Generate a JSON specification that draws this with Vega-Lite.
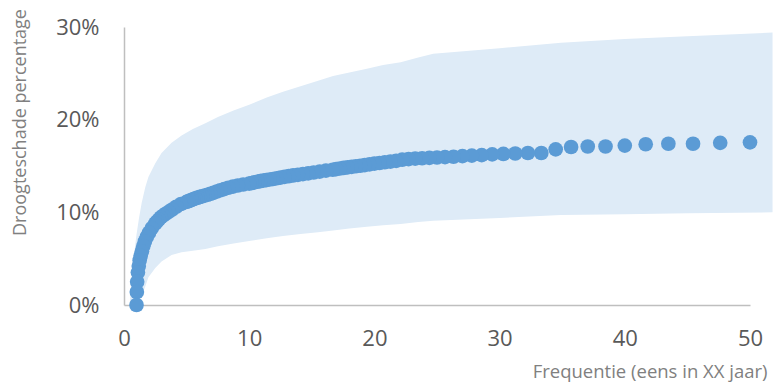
{
  "$schema": "https://vega.github.io/schema/vega-lite/v6.json",
  "autosize": {"type": "none"},
  "padding": {"left": 124, "top": 27, "right": 24, "bottom": 78},
  "width": 626,
  "height": 278,
  "background": "white",
  "config": {"view": {"stroke": null}, "font": "Open Sans"},
  "datasets": {
    "band": [
      {"x": 0.45, "hi": 0, "lo": 0},
      {"x": 0.6, "hi": 2.5, "lo": 0},
      {"x": 0.75, "hi": 4.6, "lo": 0},
      {"x": 0.88, "hi": 6.3, "lo": 0.1},
      {"x": 1.0, "hi": 7.6, "lo": 0.2},
      {"x": 1.2, "hi": 9.4, "lo": 0.6},
      {"x": 1.41, "hi": 11.0, "lo": 1.0},
      {"x": 1.7, "hi": 12.7, "lo": 2.0},
      {"x": 1.95, "hi": 13.8, "lo": 3.0},
      {"x": 2.5, "hi": 15.3, "lo": 4.0},
      {"x": 3.0, "hi": 16.4, "lo": 4.7},
      {"x": 3.8, "hi": 17.5, "lo": 5.4},
      {"x": 4.6, "hi": 18.3, "lo": 5.7},
      {"x": 5.5, "hi": 19.0, "lo": 5.85},
      {"x": 6.5, "hi": 19.6, "lo": 6.05},
      {"x": 7.5, "hi": 20.3, "lo": 6.35},
      {"x": 8.75, "hi": 21.0, "lo": 6.65},
      {"x": 10, "hi": 21.6, "lo": 6.9},
      {"x": 11.4, "hi": 22.4, "lo": 7.2},
      {"x": 12.7, "hi": 23.0, "lo": 7.45},
      {"x": 14.1, "hi": 23.6, "lo": 7.65},
      {"x": 15.5, "hi": 24.2, "lo": 7.85},
      {"x": 16.7, "hi": 24.7, "lo": 8.05},
      {"x": 18, "hi": 25.1, "lo": 8.25},
      {"x": 19.4, "hi": 25.5, "lo": 8.45},
      {"x": 20.7, "hi": 25.9, "lo": 8.6},
      {"x": 22.1, "hi": 26.2, "lo": 8.75},
      {"x": 23.5, "hi": 26.7, "lo": 8.95},
      {"x": 24.7, "hi": 27.1, "lo": 9.1},
      {"x": 30, "hi": 27.7, "lo": 9.4},
      {"x": 34.9, "hi": 28.3, "lo": 9.7},
      {"x": 40, "hi": 28.7, "lo": 9.8},
      {"x": 45, "hi": 29.0, "lo": 9.9},
      {"x": 51.8, "hi": 29.4, "lo": 10.0}
    ],
    "points": [
      {"x": 50.0, "y": 17.55}, {"x": 47.62, "y": 17.5}, {"x": 45.45, "y": 17.4}, {"x": 43.48, "y": 17.4},
      {"x": 41.67, "y": 17.35}, {"x": 40.0, "y": 17.2}, {"x": 38.46, "y": 17.1}, {"x": 37.04, "y": 17.1},
      {"x": 35.71, "y": 17.05}, {"x": 34.48, "y": 16.8}, {"x": 33.33, "y": 16.4}, {"x": 32.26, "y": 16.4},
      {"x": 31.25, "y": 16.35}, {"x": 30.30, "y": 16.3}, {"x": 29.41, "y": 16.25}, {"x": 28.57, "y": 16.18},
      {"x": 27.78, "y": 16.12}, {"x": 27.03, "y": 16.06}, {"x": 26.32, "y": 16.0}, {"x": 25.64, "y": 15.96},
      {"x": 25.0, "y": 15.92}, {"x": 24.39, "y": 15.88}, {"x": 23.81, "y": 15.84}, {"x": 23.26, "y": 15.8},
      {"x": 22.73, "y": 15.74}, {"x": 22.22, "y": 15.68}, {"x": 21.74, "y": 15.55}, {"x": 21.28, "y": 15.47},
      {"x": 20.83, "y": 15.4}, {"x": 20.41, "y": 15.32}, {"x": 20.0, "y": 15.25}, {"x": 19.61, "y": 15.17},
      {"x": 19.23, "y": 15.1}, {"x": 18.87, "y": 15.03}, {"x": 18.52, "y": 14.97}, {"x": 18.18, "y": 14.91},
      {"x": 17.86, "y": 14.85}, {"x": 17.54, "y": 14.79}, {"x": 17.24, "y": 14.73}, {"x": 16.95, "y": 14.67},
      {"x": 16.67, "y": 14.6}, {"x": 16.13, "y": 14.5}, {"x": 15.63, "y": 14.4}, {"x": 15.15, "y": 14.3},
      {"x": 14.71, "y": 14.2}, {"x": 14.29, "y": 14.12}, {"x": 13.89, "y": 14.05}, {"x": 13.51, "y": 13.98},
      {"x": 13.16, "y": 13.9}, {"x": 12.82, "y": 13.82}, {"x": 12.5, "y": 13.75}, {"x": 12.2, "y": 13.68},
      {"x": 11.9, "y": 13.6}, {"x": 11.63, "y": 13.54}, {"x": 11.36, "y": 13.48}, {"x": 11.11, "y": 13.42},
      {"x": 10.87, "y": 13.36}, {"x": 10.64, "y": 13.3}, {"x": 10.42, "y": 13.24}, {"x": 10.2, "y": 13.17},
      {"x": 10.0, "y": 13.1}, {"x": 9.52, "y": 13.0}, {"x": 9.09, "y": 12.9}, {"x": 8.70, "y": 12.78},
      {"x": 8.33, "y": 12.65}, {"x": 8.0, "y": 12.5}, {"x": 7.69, "y": 12.38}, {"x": 7.41, "y": 12.25},
      {"x": 7.14, "y": 12.1}, {"x": 6.90, "y": 12.0}, {"x": 6.67, "y": 11.9}, {"x": 6.45, "y": 11.82},
      {"x": 6.25, "y": 11.74}, {"x": 6.06, "y": 11.66}, {"x": 5.88, "y": 11.58}, {"x": 5.71, "y": 11.5},
      {"x": 5.56, "y": 11.42}, {"x": 5.41, "y": 11.34}, {"x": 5.26, "y": 11.27}, {"x": 5.13, "y": 11.2},
      {"x": 5.0, "y": 11.13}, {"x": 4.55, "y": 10.9}, {"x": 4.17, "y": 10.6}, {"x": 3.85, "y": 10.3},
      {"x": 3.57, "y": 10.05}, {"x": 3.33, "y": 9.85}, {"x": 3.13, "y": 9.65}, {"x": 2.94, "y": 9.45},
      {"x": 2.78, "y": 9.22}, {"x": 2.63, "y": 9.0}, {"x": 2.5, "y": 8.8}, {"x": 2.22, "y": 8.3},
      {"x": 2.0, "y": 7.8}, {"x": 1.82, "y": 7.35}, {"x": 1.67, "y": 6.85}, {"x": 1.54, "y": 6.35},
      {"x": 1.43, "y": 5.8}, {"x": 1.33, "y": 5.3}, {"x": 1.25, "y": 4.8}, {"x": 1.18, "y": 4.2},
      {"x": 1.11, "y": 3.5}, {"x": 1.05, "y": 2.5}, {"x": 1.026, "y": 1.4}, {"x": 1.0, "y": 0.0}
    ]
  },
  "layer": [
    {
      "data": {"name": "band"},
      "mark": {"type": "area", "color": "#deebf7", "clip": false, "opacity": 1},
      "encoding": {
        "x": {
          "field": "x", "type": "quantitative",
          "scale": {"domain": [0, 50], "nice": false},
          "axis": {
            "values": [0, 10, 20, 30, 40, 50],
            "labelFlush": false,
            "title": "Frequentie (eens in XX jaar)",
            "grid": false, "ticks": false, "tickSize": 0,
            "domainColor": "#bfbfbf", "domainWidth": 1.5,
            "labelFontSize": 22, "labelColor": "#595959", "labelPadding": 23,
            "labelFont": "Open Sans",
            "titleFont": "Open Sans", "titleFontSize": 18.5, "titleFontWeight": "normal",
            "titleColor": "#808080", "titleAnchor": null, "titleAlign": "right",
            "titleBaseline": "middle", "titleX": 643, "titleY": 66
          }
        },
        "y": {
          "field": "hi", "type": "quantitative",
          "scale": {"domain": [0, 30], "nice": false},
          "axis": {
            "values": [0, 10, 20, 30],
            "labelFlush": false,
            "labelExpr": "datum.value + '%'",
            "title": "Droogteschade percentage",
            "grid": false, "ticks": false, "tickSize": 0,
            "domainColor": "#bfbfbf", "domainWidth": 1.5,
            "labelFontSize": 22, "labelColor": "#595959", "labelPadding": 25,
            "labelFont": "Open Sans",
            "titleFont": "Open Sans", "titleFontSize": 18, "titleFontWeight": "normal",
            "titleColor": "#808080", "titleAnchor": null, "titleAngle": -90,
            "titleAlign": "center", "titleBaseline": "middle", "titleX": -104, "titleY": 95
          }
        },
        "y2": {"field": "lo"}
      }
    },
    {
      "data": {"name": "points"},
      "mark": {"type": "circle", "color": "#5b9bd5", "opacity": 1, "size": 215, "clip": false},
      "encoding": {
        "x": {"field": "x", "type": "quantitative"},
        "y": {"field": "y", "type": "quantitative"}
      }
    }
  ]
}
